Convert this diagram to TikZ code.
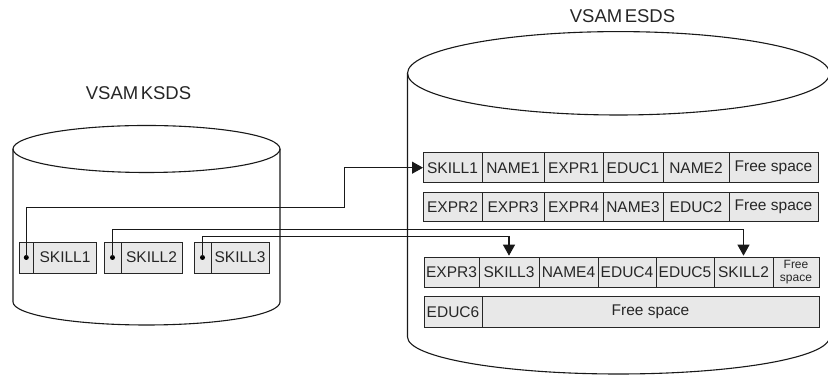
\documentclass[tikz,border=0pt]{standalone}
\usepackage{fontspec}
\setmainfont{Liberation Sans}
\usetikzlibrary{arrows.meta,positioning}

\begin{document}
\begin{tikzpicture}[
      x=1pt, y=1pt,
      every node/.style={font=\fontsize{15.5}{17}\selectfont, text=black!85},
      cell/.style={rectangle, draw=black!85, fill=black!9, line width=0.8pt, inner sep=0pt, outer sep=0pt, minimum height=30pt, align=center},
      dot/.style={circle, fill=black, inner sep=0pt, minimum size=5pt},
      drum/.style={draw=black!90, line width=1.1pt},
      title/.style={font=\fontsize{18.5}{20}\selectfont},
      line/.style={draw=black!90, line width=1.1pt, -{Triangle[length=11pt, width=12pt]}}
    ]
    \useasboundingbox (0,0) rectangle (828,379);
    % Data sets
    \draw[drum] (146.5,230) ellipse (133.5 and 23.5);
    \draw[drum] (13,230) -- (13,77) arc (180:360:133.5 and 23) -- (280,230);
    \draw[drum] (618.5,305.7) ellipse (211 and 41.7);
    \draw[drum] (407.5,305.7) -- (407.5,42) arc (180:360:211 and 37) -- (829.5,305.7);
    \node[title] (ksds) at (138.5,286) {\spaceskip=2.5pt VSAM KSDS};
    \node[title] (esds) at (622.5,363) {\spaceskip=2.5pt VSAM ESDS};
    % KSDS records
    \node[cell, minimum width=14pt, minimum height=31pt, anchor=north west] (k1p) at (19.3,137) {};
    \node[cell, minimum width=63.4pt, minimum height=31pt, right=0pt of k1p] (k1) {SKILL1};
    \node[cell, minimum width=17pt, minimum height=31pt, anchor=north west] (k2p) at (104,137) {};
    \node[cell, minimum width=61pt, minimum height=31pt, right=0pt of k2p] (k2) {SKILL2};
    \node[cell, minimum width=17pt, minimum height=31pt, anchor=north west] (k3p) at (194,137) {};
    \node[cell, minimum width=58pt, minimum height=31pt, right=0pt of k3p] (k3) {SKILL3};
    \node[dot] (d1) at (k1p) {};
    \node[dot] (d2) at (k2p) {};
    \node[dot] (d3) at (k3p) {};
    % ESDS records
    \node[cell, minimum width=59pt, anchor=north west] (r1c1) at (423,226.3) {SKILL1};
    \node[cell, minimum width=62pt, right=0pt of r1c1] (r1c2) {NAME1};
    \node[cell, minimum width=59pt, right=0pt of r1c2] (r1c3) {EXPR1};
    \node[cell, minimum width=60pt, right=0pt of r1c3] (r1c4) {EDUC1};
    \node[cell, minimum width=66pt, right=0pt of r1c4] (r1c5) {NAME2};
    \node[cell, minimum width=89pt, right=0pt of r1c5] (r1c6) {Free space};

    \node[cell, minimum width=59pt, minimum height=29pt, anchor=north west] (r2c1) at (423,186.3) {EXPR2};
    \node[cell, minimum width=62pt, minimum height=29pt, right=0pt of r2c1] (r2c2) {EXPR3};
    \node[cell, minimum width=59pt, minimum height=29pt, right=0pt of r2c2] (r2c3) {EXPR4};
    \node[cell, minimum width=60pt, minimum height=29pt, right=0pt of r2c3] (r2c4) {NAME3};
    \node[cell, minimum width=66pt, minimum height=29pt, right=0pt of r2c4] (r2c5) {EDUC2};
    \node[cell, minimum width=89pt, minimum height=29pt, right=0pt of r2c5] (r2c6) {Free space};

    \node[cell, minimum width=55pt, minimum height=29.6pt, anchor=north west] (r3c1) at (424,121.3) {EXPR3};
    \node[cell, minimum width=60pt, minimum height=29.6pt, right=0pt of r3c1] (r3c2) {SKILL3};
    \node[cell, minimum width=59pt, minimum height=29.6pt, right=0pt of r3c2] (r3c3) {NAME4};
    \node[cell, minimum width=58pt, minimum height=29.6pt, right=0pt of r3c3] (r3c4) {EDUC4};
    \node[cell, minimum width=58pt, minimum height=29.6pt, right=0pt of r3c4] (r3c5) {EDUC5};
    \node[cell, minimum width=59pt, minimum height=29.6pt, right=0pt of r3c5] (r3c6) {SKILL2};
    \node[cell, minimum width=46pt, minimum height=29.6pt, right=0pt of r3c6, font=\fontsize{12}{13}\selectfont] (r3c7) {Free\\space};

    \node[cell, minimum width=58pt, minimum height=30.6pt, anchor=north west] (r4c1) at (424,82.3) {EDUC6};
    \node[cell, minimum width=337pt, minimum height=30.6pt, right=0pt of r4c1] (r4c2) {Free space};
    % Pointers
    \coordinate (b1) at (344.3,171.3);
    \coordinate (b2) at (300,149.7);
    \coordinate (b3) at (300,142.3);
    \path[line] (d1.center) |- (b1) |- (r1c1.west);
    \path[line, shorten >=2pt] (d2.center) |- (b2) -| (r3c6.north);
    \path[line, shorten >=2pt] (d3.center) |- (b3) -| (r3c2.north);
  \end{tikzpicture}
\end{document}
